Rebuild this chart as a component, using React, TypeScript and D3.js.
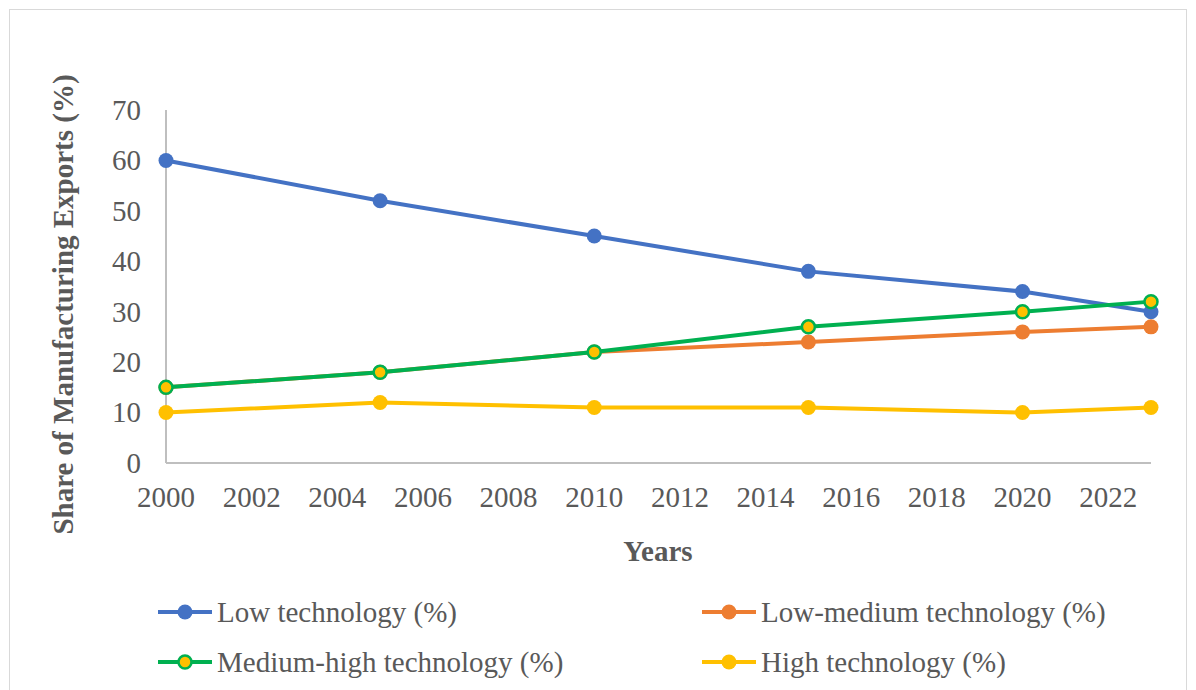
import React from "react";
import * as d3 from "d3";

const years = [2000, 2005, 2010, 2015, 2020, 2023];
const lowTech = [60, 52, 45, 38, 34, 30];
const lowMediumTech = [15, 18, 22, 24, 26, 27];
const mediumHighTech = [15, 18, 22, 27, 30, 32];
const highTech = [10, 12, 11, 11, 10, 11];
const xTicks = [2000, 2002, 2004, 2006, 2008, 2010, 2012, 2014, 2016, 2018, 2020, 2022];
const yTicks = [0, 10, 20, 30, 40, 50, 60, 70];

const series = [
  { name: "Low technology (%)", values: lowTech, stroke: "#4472C4", fill: "#4472C4", mstroke: "#4472C4" },
  { name: "Low-medium technology (%)", values: lowMediumTech, stroke: "#ED7D31", fill: "#ED7D31", mstroke: "#ED7D31" },
  { name: "Medium-high technology (%)", values: mediumHighTech, stroke: "#00B050", fill: "#FFC000", mstroke: "#00B050" },
  { name: "High technology (%)", values: highTech, stroke: "#FFC000", fill: "#FFC000", mstroke: "#FFC000" },
];

export default function App() {
  const W = 1196, H = 690;
  const x = d3.scaleLinear().domain([2000, 2023]).range([166, 1151]);
  const y = d3.scaleLinear().domain([0, 70]).range([463, 110]);
  const line = d3.line<number>().x((_, i) => x(years[i])).y((v) => y(v));
  const font = "Liberation Serif";
  const legendPos = [
    { lx: 158, ly: 612 },
    { lx: 702, ly: 612 },
    { lx: 158, ly: 662 },
    { lx: 702, ly: 662 },
  ];
  const drawOrder = [0, 1, 3, 2];
  return (
    <svg width={W} height={H} style={{ position: "absolute", left: 0, top: 0 }}>
      <rect x={0} y={0} width={W} height={H} fill="#fff" />
      <rect x={9.5} y={9.5} width={1177} height={700} fill="none" stroke="#d9d9d9" strokeWidth={1} />
      <line x1={x(2000)} x2={x(2000)} y1={y(70)} y2={y(0)} stroke="#bfbfbf" strokeWidth={2} />
      <line x1={x(2000)} x2={x(2023)} y1={y(0)} y2={y(0)} stroke="#bfbfbf" strokeWidth={2} />
      {yTicks.map((t) => (
        <text key={t} x={141} y={y(t)} dy="0.34em" textAnchor="end" fontSize={29} fill="#595959" fontFamily={font}>{t}</text>
      ))}
      {xTicks.map((t) => (
        <text key={t} x={x(t)} y={507} textAnchor="middle" fontSize={29} fill="#595959" fontFamily={font}>{t}</text>
      ))}
      <text x={658} y={561} textAnchor="middle" fontSize={29} fontWeight="bold" fill="#595959" fontFamily={font}>Years</text>
      <text transform={`translate(73,${(72 + 537) / 2}) rotate(-90)`} textAnchor="middle" fontSize={29} fontWeight="bold" fill="#595959" fontFamily={font}>Share of Manufacturing Exports (%)</text>
      {drawOrder.map((si) => {
        const s = series[si];
        return (
          <g key={s.name}>
            <path d={line(s.values) || ""} fill="none" stroke={s.stroke} strokeWidth={4} strokeLinejoin="round" />
            {s.values.map((v, i) => (
              <circle key={i} cx={x(years[i])} cy={y(v)} r={si === 2 ? 6.5 : 7.5} fill={s.fill} stroke={s.mstroke} strokeWidth={si === 2 ? 2.5 : 0} />
            ))}
          </g>
        );
      })}
      {series.map((s, si) => {
        const p = legendPos[si];
        return (
          <g key={s.name}>
            <line x1={p.lx} x2={p.lx + 54} y1={p.ly} y2={p.ly} stroke={s.stroke} strokeWidth={4} />
            <circle cx={p.lx + 27} cy={p.ly} r={si === 2 ? 6.5 : 7.5} fill={s.fill} stroke={s.mstroke} strokeWidth={si === 2 ? 2.5 : 0} />
            <text x={p.lx + 59} y={p.ly} dy="0.34em" fontSize={29} fill="#595959" fontFamily={font}>{s.name}</text>
          </g>
        );
      })}
    </svg>
  );
}
